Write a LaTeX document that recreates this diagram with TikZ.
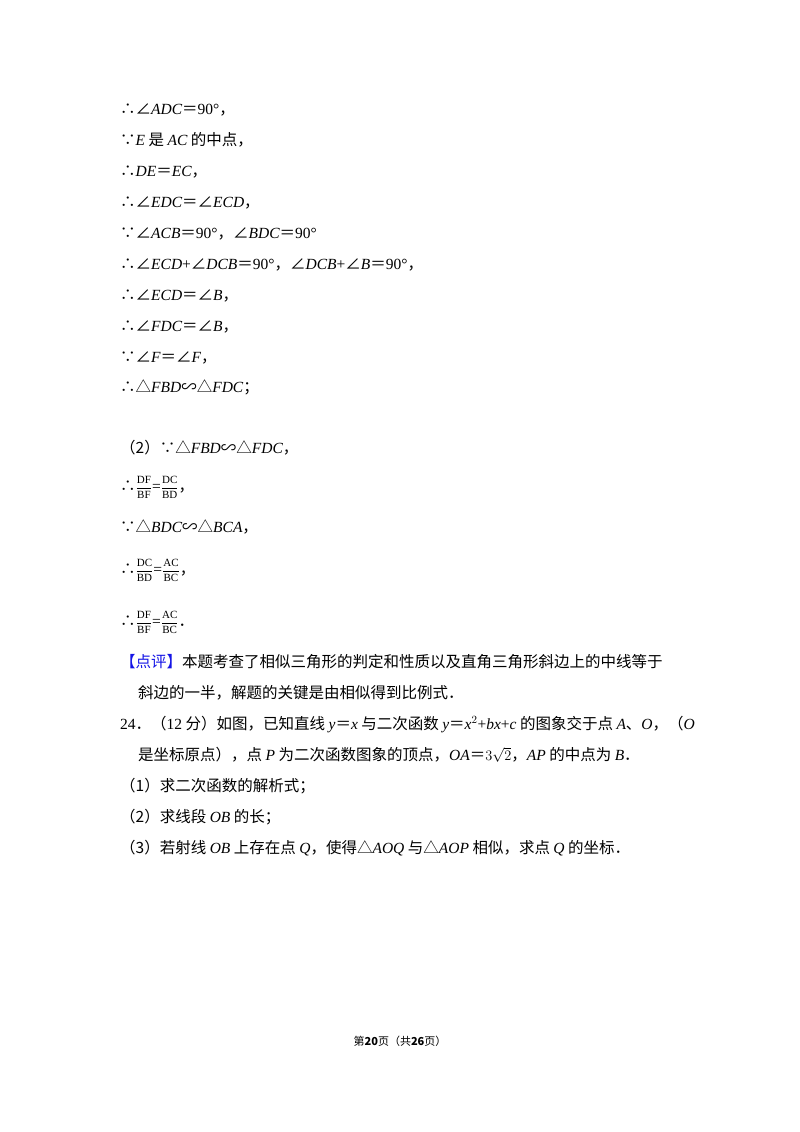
\documentclass[tikz,border=0pt]{standalone}
\usepackage{fontspec}
\setmainfont{Liberation Serif}
\newfontfamily\cjk{Noto Sans CJK SC}
\usepackage{xcolor}
\definecolor{pingblue}{RGB}{20,20,230}
\newcommand\m[1]{{\rmfamily\itshape #1}}
\newcommand\rr[1]{{\rmfamily #1}}
\newcommand\fr[2]{$\vcenter{\hbox{\fontsize{11}{11}\selectfont\rmfamily$\displaystyle\frac{\mathrm{#1}}{\mathrm{#2}}$}}$}
\begin{document}
\begin{tikzpicture}[x=1pt,y=-1pt]
    % Stili
    \tikzset{line/.style={anchor=base west, inner sep=0pt, font=\fontsize{15.5}{18}\selectfont\cjk}}
    \useasboundingbox[fill=white] (0,0) rectangle (800,1132);

    % Dimostrazione (1)
    \node[line] (l1) at (120,114) {∴∠\m{ADC}＝\rr{90°}，};
    \node[line] (l2) at (120,145) {∵\m{E} 是 \m{AC} 的中点，};
    \node[line] (l3) at (120,176) {∴\m{DE}＝\m{EC}，};
    \node[line] (l4) at (120,207) {∴∠\m{EDC}＝∠\m{ECD}，};
    \node[line] (l5) at (120,238) {∵∠\m{ACB}＝\rr{90°}，∠\m{BDC}＝\rr{90°}};
    \node[line] (l6) at (120,269) {∴∠\m{ECD}\rr{+}∠\m{DCB}＝\rr{90°}，∠\m{DCB}\rr{+}∠\m{B}＝\rr{90°}，};
    \node[line] (l7) at (120,300) {∴∠\m{ECD}＝∠\m{B}，};
    \node[line] (l8) at (120,331) {∴∠\m{FDC}＝∠\m{B}，};
    \node[line] (l9) at (120,362) {∵∠\m{F}＝∠\m{F}，};
    \node[line] (l10) at (120,392) {∴△\m{FBD}∽△\m{FDC}；};

    % Dimostrazione (2)
    \node[line] (m1) at (120,453) {（2）∵△\m{FBD}∽△\m{FDC}，};
    \node[line] (m2) at (120,491) {∴\fr{DF}{BF}\rr{=}\fr{DC}{BD}，};
    \node[line] (m3) at (120,532) {∵△\m{BDC}∽△\m{BCA}，};
    \node[line] (m4) at (120,574) {∴\fr{DC}{BD}\rr{=}\fr{AC}{BC}，};
    \node[line] (m5) at (120,626) {∴\fr{DF}{BF}\rr{=}\fr{AC}{BC}．};

    % Commento
    \node[line] (c1) at (120,667) {{\color{pingblue}【点评】}本题考查了相似三角形的判定和性质以及直角三角形斜边上的中线等于};
    \node[line] (c2) at (138,698) {斜边的一半，解题的关键是由相似得到比例式．};

    % Problema 24
    \node[line] (p1) at (120,729) {\rr{24}．（\rr{12} 分）如图，已知直线 \m{y}＝\m{x} 与二次函数 \m{y}＝\m{x}\rr{$^2$+}\m{bx}\rr{+}\m{c} 的图象交于点 \m{A}、\m{O}，（\m{O}};
    \node[line] (p2) at (138,760) {是坐标原点），点 \m{P} 为二次函数图象的顶点，\m{OA}＝\rr{$3\sqrt{2}$}，\m{AP} 的中点为 \m{B}．};
    \node[line] (q1) at (120,791) {（1）求二次函数的解析式；};
    \node[line] (q2) at (120,822) {（2）求线段 \m{OB} 的长；};
    \node[line] (q3) at (120,853) {（3）若射线 \m{OB} 上存在点 \m{Q}，使得△\m{AOQ} 与△\m{AOP} 相似，求点 \m{Q} 的坐标．};

    % Piè di pagina
    \node[anchor=base, inner sep=0pt, font=\fontsize{11}{13}\selectfont\cjk] (foot) at (400,1045) {第\textbf{20}页（共\textbf{26}页）};
\end{tikzpicture}
\end{document}
